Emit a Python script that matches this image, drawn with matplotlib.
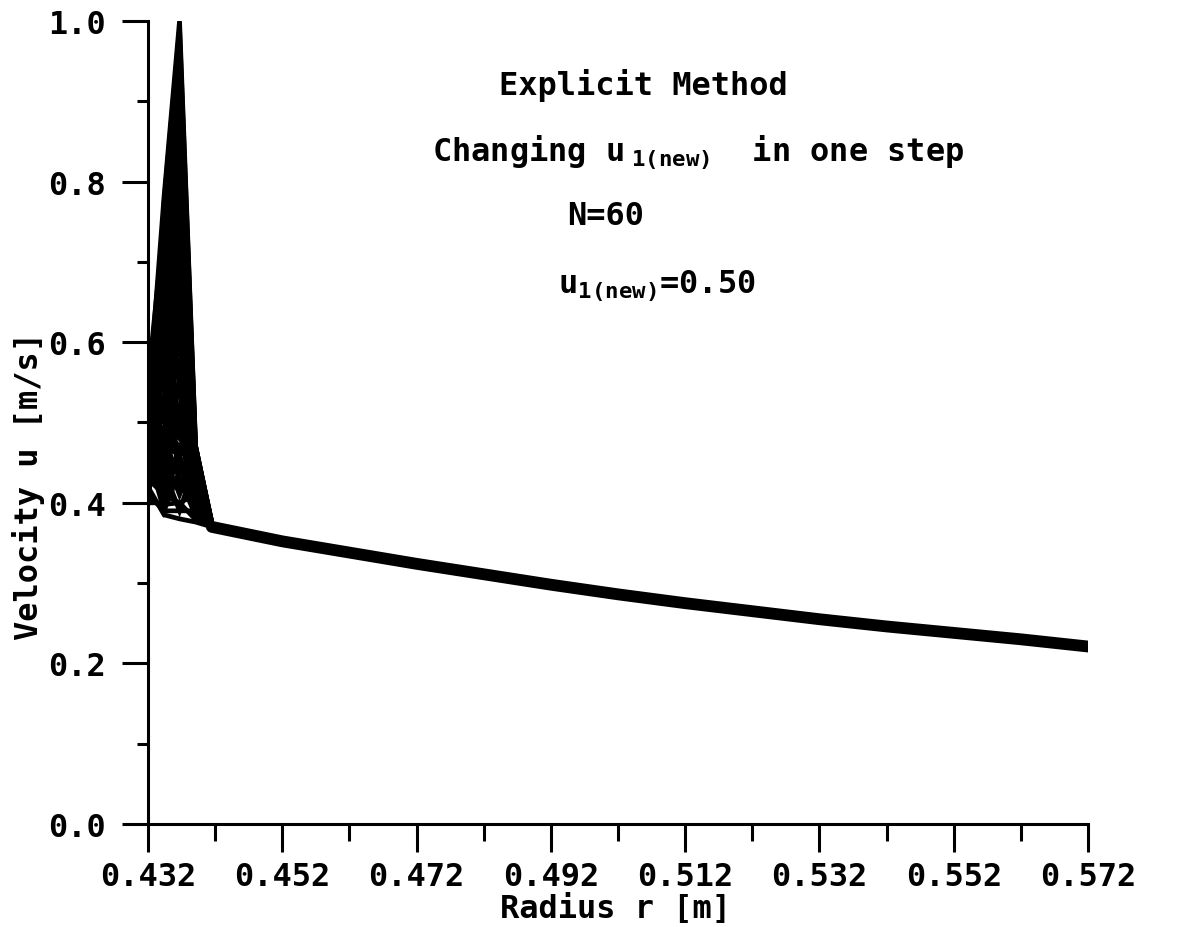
import matplotlib
matplotlib.use('Agg')
import matplotlib.pyplot as plt
from matplotlib.ticker import MultipleLocator, FormatStrFormatter

plt.rcParams['font.family'] = 'DejaVu Sans Mono'
plt.rcParams['font.weight'] = 'bold'
plt.rcParams['axes.labelweight'] = 'bold'
plt.rcParams['mathtext.fontset'] = 'custom'
plt.rcParams['mathtext.rm'] = 'DejaVu Sans Mono:bold'
plt.rcParams['mathtext.it'] = 'DejaVu Sans Mono:bold'

# radial nodes near the inner wall, where the profiles oscillate
r_head = [0.4320, 0.4344, 0.4367, 0.4391, 0.4415]

# velocity at those nodes, one row per stored time step
u_steps = [
    [0.42, 0.385, 0.38, 0.376, 0.370],
    [0.50, 0.398, 0.40, 0.379, 0.370],
    [0.57, 0.417, 0.43, 0.384, 0.370],
    [0.55, 0.436, 0.46, 0.388, 0.371],
    [0.46, 0.455, 0.49, 0.393, 0.371],
    [0.53, 0.475, 0.52, 0.397, 0.371],
    [0.44, 0.494, 0.55, 0.402, 0.372],
    [0.56, 0.513, 0.58, 0.406, 0.372],
    [0.48, 0.532, 0.61, 0.411, 0.372],
    [0.52, 0.551, 0.64, 0.415, 0.373],
    [0.43, 0.571, 0.67, 0.420, 0.373],
    [0.55, 0.590, 0.70, 0.424, 0.373],
    [0.47, 0.609, 0.73, 0.429, 0.374],
    [0.51, 0.628, 0.76, 0.433, 0.374],
    [0.42, 0.647, 0.79, 0.438, 0.374],
    [0.54, 0.667, 0.82, 0.442, 0.374],
    [0.45, 0.686, 0.85, 0.447, 0.375],
    [0.50, 0.705, 0.88, 0.451, 0.375],
    [0.41, 0.724, 0.91, 0.456, 0.375],
    [0.53, 0.737, 0.93, 0.459, 0.375],
    [0.44, 0.750, 0.95, 0.462, 0.375],
    [0.49, 0.763, 0.97, 0.465, 0.376],
    [0.40, 0.775, 0.99, 0.468, 0.376],
    [0.52, 0.782, 1.00, 0.470, 0.376],
    # oscillating steps, inner node above its neighbour
    [0.45, 0.60, 0.42, 0.44, 0.372],
    [0.50, 0.55, 0.45, 0.43, 0.372],
    [0.56, 0.50, 0.48, 0.46, 0.373],
    [0.42, 0.45, 0.52, 0.42, 0.372],
    [0.48, 0.40, 0.56, 0.40, 0.372],
    [0.53, 0.42, 0.62, 0.45, 0.373],
    [0.58, 0.47, 0.68, 0.43, 0.374],
    [0.46, 0.52, 0.74, 0.41, 0.374],
    [0.40, 0.58, 0.50, 0.47, 0.375],
    [0.51, 0.65, 0.55, 0.39, 0.372],
    [0.44, 0.70, 0.60, 0.44, 0.374],
    [0.55, 0.75, 0.65, 0.46, 0.375],
    [0.47, 0.62, 0.86, 0.42, 0.374],
    [0.43, 0.68, 0.94, 0.44, 0.375],
    [0.49, 0.73, 0.78, 0.40, 0.373],
    # low, nearly flat steps close to the wall
    [0.41, 0.39, 0.39, 0.39, 0.371],
    [0.43, 0.41, 0.40, 0.41, 0.371],
    [0.45, 0.43, 0.42, 0.43, 0.372],
    [0.47, 0.45, 0.44, 0.45, 0.372],
    [0.49, 0.47, 0.46, 0.47, 0.373],
    [0.40, 0.40, 0.47, 0.44, 0.372],
    [0.44, 0.46, 0.41, 0.46, 0.373],
    [0.46, 0.39, 0.44, 0.47, 0.373],
    [0.52, 0.44, 0.39, 0.45, 0.372],
    [0.48, 0.42, 0.45, 0.38, 0.371],
    [0.43, 0.48, 0.43, 0.41, 0.372],
    [0.57, 0.46, 0.50, 0.44, 0.373],
]

# outer part, where all time steps lie on top of each other
r_tail = [0.4415, 0.452, 0.462, 0.472, 0.482, 0.492, 0.502, 0.512,
          0.522, 0.532, 0.542, 0.552, 0.562, 0.572]
u_tail = [0.370, 0.352, 0.338, 0.324, 0.311, 0.298, 0.286, 0.275,
          0.265, 0.255, 0.246, 0.238, 0.230, 0.221]

fig = plt.figure(figsize=(11.81, 9.28), dpi=100)
ax = fig.add_axes([0.1253, 0.111, 0.796, 0.8653])

for u in u_steps:
    ax.plot(r_head, u, color='black', lw=3.4, solid_joinstyle='miter')
ax.plot(r_tail, u_tail, color='black', lw=8.5, solid_capstyle='round')

ax.set_xlim(0.432, 0.572)
ax.set_ylim(0.0, 1.0)
ax.spines['top'].set_visible(False)
ax.spines['right'].set_visible(False)
for s in ('left', 'bottom'):
    ax.spines[s].set_linewidth(2.2)

ax.set_xticks([0.432 + 0.02 * i for i in range(8)])
ax.set_xticks([0.442 + 0.02 * i for i in range(7)], minor=True)
ax.xaxis.set_major_formatter(FormatStrFormatter('%.3f'))
ax.yaxis.set_major_locator(MultipleLocator(0.2))
ax.yaxis.set_minor_locator(MultipleLocator(0.1))
ax.yaxis.set_major_formatter(FormatStrFormatter('%.1f'))

ax.tick_params(axis='x', which='major', direction='out', length=20, width=2.2,
               pad=7, labelsize=23)
ax.tick_params(axis='x', which='minor', direction='out', length=12, width=2.2)
ax.tick_params(axis='y', which='major', direction='out', length=19, width=2.2,
               pad=11, labelsize=23)
ax.tick_params(axis='y', which='minor', direction='out', length=8, width=2.2)

ax.set_xlabel('Radius r [m]', fontsize=23)
ax.xaxis.set_label_coords(0.497, -0.085)
ax.set_ylabel('Velocity u [m/s]', fontsize=23)
ax.yaxis.set_label_coords(-0.11, 0.422)

ax.text(0.4843, 0.909, 'Explicit Method', fontsize=23)
ax.text(0.4743, 0.828, r'Changing u$\ _{\rm 1(new)}$  in one step', fontsize=23)
ax.text(0.4944, 0.747, 'N=60', fontsize=23)
ax.text(0.4930, 0.6625, r'u$_{\rm 1(new)}$=0.50', fontsize=23)

fig.savefig('out.png', dpi=100)
